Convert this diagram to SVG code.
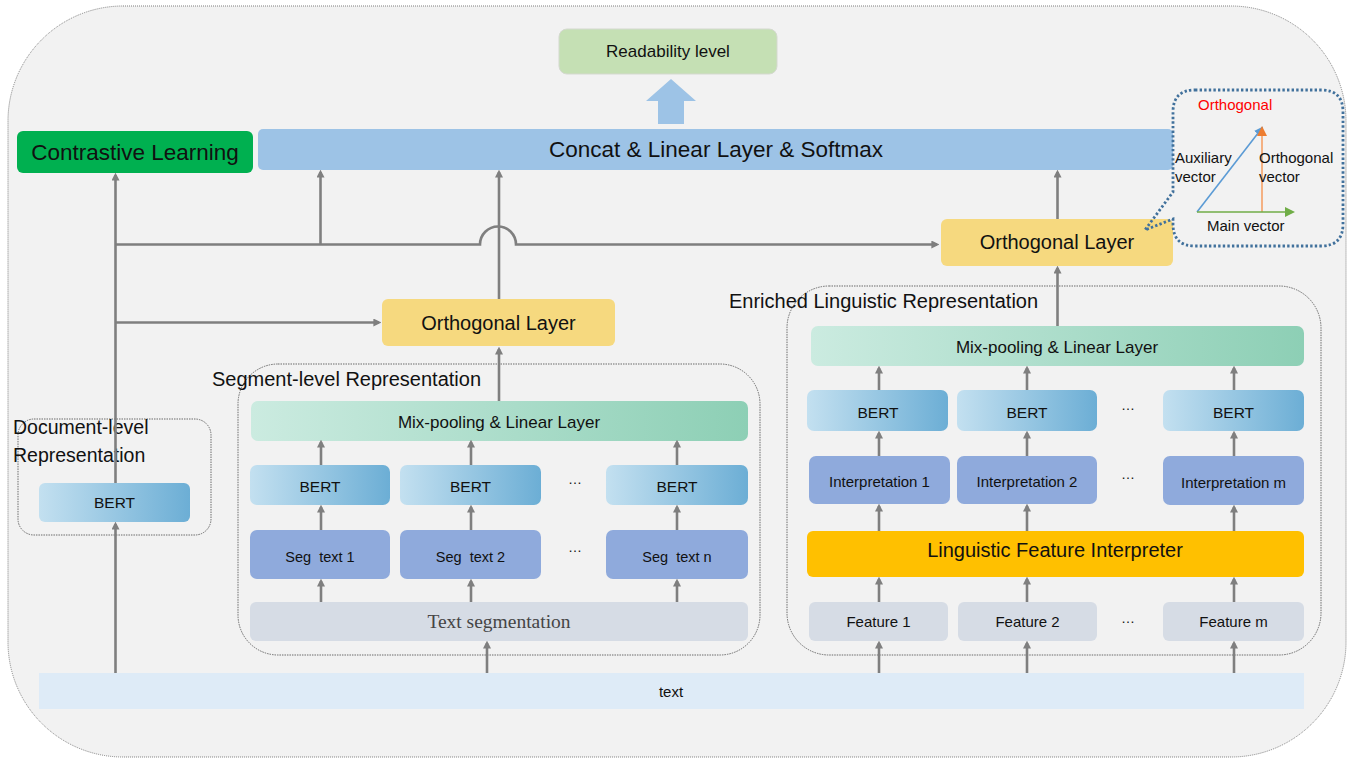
<svg xmlns="http://www.w3.org/2000/svg" width="1351" height="760" viewBox="0 0 1351 760">
<style>
text{font-family:"Liberation Sans",Arial,sans-serif;fill:#111}
.c{text-anchor:middle}
.pre{white-space:pre}
.con{fill:none;stroke:#7f7f7f;stroke-width:2.6}
.arr{marker-end:url(#ah)}
.grp{fill:none;stroke:#6b6b6b;stroke-width:1;stroke-dasharray:1.5 1}
.bert{fill:url(#gBert)}
.mix{fill:url(#gMix)}
.seg{fill:#8faadc}
.feat{fill:#d6dce5}
</style>
<defs>
<linearGradient id="gBert" x1="0" y1="0" x2="1" y2="0"><stop offset="0" stop-color="#c3e0f0"/><stop offset="1" stop-color="#6caed5"/></linearGradient>
<linearGradient id="gMix" x1="0" y1="0" x2="1" y2="0"><stop offset="0" stop-color="#cbebe0"/><stop offset="1" stop-color="#8dcfb5"/></linearGradient>
<marker id="ah" viewBox="0 0 10 10" refX="7" refY="5" markerWidth="8" markerHeight="8" markerUnits="userSpaceOnUse" orient="auto"><path d="M0,0 L10,5 L0,10 z" fill="#7f7f7f"/></marker>
<marker id="ahB" viewBox="0 0 10 10" refX="8" refY="5" markerWidth="9" markerHeight="9" markerUnits="userSpaceOnUse" orient="auto"><path d="M0,0 L10,5 L0,10 z" fill="#5b9bd5"/></marker>
<marker id="ahO" viewBox="0 0 10 10" refX="8" refY="5" markerWidth="10" markerHeight="10" markerUnits="userSpaceOnUse" orient="auto"><path d="M0,0 L10,5 L0,10 z" fill="#ed7d31"/></marker>
<marker id="ahG" viewBox="0 0 10 10" refX="8" refY="5" markerWidth="10" markerHeight="10" markerUnits="userSpaceOnUse" orient="auto"><path d="M0,0 L10,5 L0,10 z" fill="#70ad47"/></marker>
</defs>
<rect width="1351" height="760" fill="#ffffff"/>
<g id="frame"><rect x="8" y="6" width="1338" height="751" rx="115" ry="115" fill="#f2f2f2" stroke="#7f7f7f" stroke-width="1" stroke-dasharray="1 1"/></g>

<g id="groups">
<rect class="grp" x="18" y="419" width="193" height="116" rx="16"/>
<rect class="grp" x="238" y="364" width="522" height="291" rx="40"/>
<rect class="grp" x="787" y="286" width="534" height="369" rx="42"/>
</g>

<g id="readability"><rect x="559" y="29" width="218" height="45" rx="8" fill="#c5e0b4" stroke="#d4d9cf" stroke-width="1"/><text class="c" x="668" y="57" font-size="17">Readability level</text></g>
<g id="output-arrow"><path d="M671,79 L696,101 L684,101 L684,124 L658,124 L658,101 L646,101 Z" fill="#9dc3e6"/></g>
<g id="concat"><rect x="258" y="129" width="915" height="41" rx="5" fill="#9dc3e6"/><text class="c" x="716" y="157" font-size="22.5">Concat &amp; Linear Layer &amp; Softmax</text></g>
<g id="contrastive"><rect x="17" y="131" width="236" height="42" rx="6" fill="#00b050"/><text class="c" x="135" y="160" font-size="22.5">Contrastive Learning</text></g>
<g id="orth-right"><rect x="941" y="219" width="232" height="47" rx="6" fill="#f6d97f"/><text class="c" x="1057" y="249" font-size="20">Orthogonal Layer</text></g>
<g id="orth-left"><rect x="382" y="299" width="233" height="47" rx="6" fill="#f6d97f"/><text class="c" x="498.5" y="330" font-size="20">Orthogonal Layer</text></g>

<g id="labels">
<text x="729" y="308" font-size="20">Enriched Linguistic Representation</text>
<text x="212" y="386" font-size="20">Segment-level Representation</text>
<text x="13" y="434" font-size="19.5">Document-level</text>
<text x="13" y="462" font-size="19.5">Representation</text>
</g>

<g id="doc-bert"><rect class="bert" x="39" y="483" width="151" height="39" rx="6"/><text class="c" x="114.5" y="508" font-size="15.5">BERT</text></g>

<g id="seg-mix"><rect class="mix" x="251" y="401" width="497" height="40" rx="7"/><text class="c" x="499" y="428" font-size="17">Mix-pooling &amp; Linear Layer</text></g>
<g id="seg-bert-1"><rect class="bert" x="250" y="465" width="140" height="40" rx="7"/><text class="c" x="320" y="492" font-size="15.5">BERT</text></g>
<g id="seg-bert-2"><rect class="bert" x="400" y="465" width="141" height="40" rx="7"/><text class="c" x="470.5" y="492" font-size="15.5">BERT</text></g>
<g id="seg-bert-n"><rect class="bert" x="606" y="465" width="142" height="40" rx="7"/><text class="c" x="677" y="492" font-size="15.5">BERT</text></g>
<g id="seg-text-1"><rect class="seg" x="250" y="530" width="140" height="49" rx="7"/><text class="c pre" x="320" y="562" font-size="14.5">Seg  text 1</text></g>
<g id="seg-text-2"><rect class="seg" x="400" y="530" width="141" height="49" rx="7"/><text class="c pre" x="470.5" y="562" font-size="14.5">Seg  text 2</text></g>
<g id="seg-text-n"><rect class="seg" x="606" y="530" width="142" height="49" rx="7"/><text class="c pre" x="677" y="562" font-size="14.5">Seg  text n</text></g>
<g id="text-seg"><rect class="feat" x="250" y="602" width="498" height="39" rx="6"/><text class="c" x="499" y="628" font-size="19.5" style="font-family:'Liberation Serif','Times New Roman',serif;fill:#454545">Text segmentation</text></g>
<g id="seg-dots"><text class="c" x="575" y="484" font-size="14">…</text><text class="c" x="575" y="552" font-size="14">…</text></g>

<g id="ling-mix"><rect class="mix" x="811" y="326" width="493" height="40" rx="7"/><text class="c" x="1057" y="353" font-size="17">Mix-pooling &amp; Linear Layer</text></g>
<g id="ling-bert-1"><rect class="bert" x="807" y="390" width="141" height="41" rx="7"/><text class="c" x="878" y="418" font-size="15.5">BERT</text></g>
<g id="ling-bert-2"><rect class="bert" x="957" y="390" width="140" height="41" rx="7"/><text class="c" x="1027" y="418" font-size="15.5">BERT</text></g>
<g id="ling-bert-m"><rect class="bert" x="1163" y="390" width="141" height="41" rx="7"/><text class="c" x="1233.5" y="418" font-size="15.5">BERT</text></g>
<g id="interp-1"><rect class="seg" x="809" y="456" width="141" height="48" rx="7"/><text class="c" x="879.5" y="487" font-size="15">Interpretation 1</text></g>
<g id="interp-2"><rect class="seg" x="957" y="456" width="140" height="48" rx="7"/><text class="c" x="1027" y="487" font-size="15">Interpretation 2</text></g>
<g id="interp-m"><rect class="seg" x="1163" y="456" width="141" height="49" rx="7"/><text class="c" x="1233.5" y="488" font-size="15">Interpretation m</text></g>
<g id="lfi"><rect x="807" y="531" width="497" height="46" rx="6" fill="#ffc000"/><text class="c" x="1055" y="557" font-size="20">Linguistic Feature Interpreter</text></g>
<g id="feature-1"><rect class="feat" x="809" y="602" width="139" height="39" rx="6"/><text class="c" x="878.5" y="627" font-size="15">Feature 1</text></g>
<g id="feature-2"><rect class="feat" x="958" y="602" width="139" height="39" rx="6"/><text class="c" x="1027.5" y="627" font-size="15">Feature 2</text></g>
<g id="feature-m"><rect class="feat" x="1163" y="602" width="141" height="39" rx="6"/><text class="c" x="1233.5" y="627" font-size="15">Feature m</text></g>
<g id="ling-dots"><text class="c" x="1128" y="410" font-size="14">…</text><text class="c" x="1128" y="479" font-size="14">…</text><text class="c" x="1128" y="623" font-size="14">…</text></g>

<g id="text-input"><rect x="39" y="673" width="1265" height="36" fill="#deebf7"/><text class="c" x="671" y="697" font-size="15">text</text></g>

<g id="connectors">
<path class="con arr" d="M115.5,673 V524"/>
<path class="con arr" d="M115.5,483 V175"/>
<path class="con arr" d="M115.5,244.5 H480 A18,18 0 0 1 516,244.5 H937"/>
<path class="con arr" d="M320.5,244.5 V172"/>
<path class="con arr" d="M115.5,322.5 H379"/>
<path class="con arr" d="M499,401 V349"/>
<path class="con arr" d="M499,299 V172"/>
<path class="con arr" d="M1057.5,219 V172"/>
<path class="con arr" d="M1057.5,326 V268"/>
<path class="con arr" d="M487,673 V643"/>
<path class="con arr" d="M321,465 V442"/>
<path class="con arr" d="M471,465 V442"/>
<path class="con arr" d="M677,465 V442"/>
<path class="con arr" d="M321,530 V507"/>
<path class="con arr" d="M471,530 V507"/>
<path class="con arr" d="M677,530 V507"/>
<path class="con arr" d="M321,602 V581"/>
<path class="con arr" d="M471,602 V581"/>
<path class="con arr" d="M677,602 V581"/>
<path class="con arr" d="M879,390 V368"/>
<path class="con arr" d="M1027,390 V368"/>
<path class="con arr" d="M1234,390 V368"/>
<path class="con arr" d="M879,456 V433"/>
<path class="con arr" d="M1027,456 V433"/>
<path class="con arr" d="M1234,456 V433"/>
<path class="con arr" d="M879,531 V506"/>
<path class="con arr" d="M1027,531 V506"/>
<path class="con arr" d="M1234,531 V507"/>
<path class="con arr" d="M879,602 V579"/>
<path class="con arr" d="M1027,602 V579"/>
<path class="con arr" d="M1234,602 V579"/>
<path class="con arr" d="M879,673 V643"/>
<path class="con arr" d="M1027,673 V643"/>
<path class="con arr" d="M1234,673 V643"/>
</g>

<g id="orthogonal-inset">
<path d="M1195,90 H1321 Q1343,90 1343,112 V224 Q1343,246 1321,246 H1195 Q1173,246 1173,224 V219 L1145,230 L1173,192 V112 Q1173,90 1195,90 Z" fill="none" stroke="#41719c" stroke-width="2.8" stroke-dasharray="2.4 2.2"/>
<text x="1198" y="110" font-size="15" style="fill:#ff0000">Orthogonal</text>
<line x1="1197" y1="212" x2="1262" y2="128" stroke="#5b9bd5" stroke-width="1.6" marker-end="url(#ahB)"/>
<line x1="1262" y1="212" x2="1262" y2="128" stroke="#f4b183" stroke-width="2" marker-end="url(#ahO)"/>
<line x1="1197" y1="212" x2="1293" y2="212" stroke="#70ad47" stroke-width="1.6" marker-end="url(#ahG)"/>
<text x="1175" y="163" font-size="15">Auxiliary</text>
<text x="1175" y="182" font-size="15">vector</text>
<text x="1259" y="163" font-size="15">Orthogonal</text>
<text x="1259" y="182" font-size="15">vector</text>
<text x="1207" y="231" font-size="15">Main vector</text>
</g>
</svg>
